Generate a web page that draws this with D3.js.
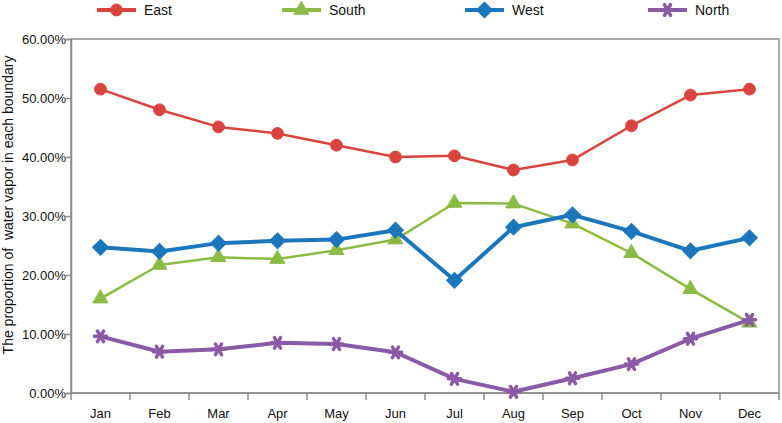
<!DOCTYPE html>
<html>
<head>
<meta charset="utf-8">
<script src="https://cdn.jsdelivr.net/npm/d3@7"></script>
<style>
  body { margin: 0; background: #fff; }
  text { font-family: "Liberation Sans", Arial, sans-serif; fill: #111; }
</style>
</head>
<body>
<svg id="chart" width="782" height="423"></svg>
<script>
var months = ["Jan", "Feb", "Mar", "Apr", "May", "Jun", "Jul", "Aug", "Sep", "Oct", "Nov", "Dec"];
var east  = [51.5, 48.0, 45.1, 44.0, 42.0, 40.0, 40.2, 37.8, 39.5, 45.3, 50.5, 51.5];
var south = [16.0, 21.7, 23.0, 22.7, 24.2, 26.0, 32.2, 32.1, 28.7, 23.7, 17.6, 11.9];
var west  = [24.7, 24.0, 25.4, 25.8, 26.0, 27.6, 19.1, 28.1, 30.2, 27.4, 24.1, 26.3];
var north = [9.6, 7.0, 7.4, 8.5, 8.3, 6.9, 2.4, 0.2, 2.5, 4.9, 9.2, 12.4];
var yTicks = [0, 10, 20, 30, 40, 50, 60];

// six-armed star: vertical bar plus an X
var symbolStar6 = {
    draw: function(context, size) {
        var r = Math.sqrt(size) / 2;
        var a = r * 0.87, b = r * 0.5;
        context.moveTo(0, -r); context.lineTo(0, r);
        context.moveTo(-a, -b); context.lineTo(a, b);
        context.moveTo(-a, b); context.lineTo(a, -b);
    }
};

var series = [
    { name: "East",  values: east,  color: "#d9443e", width: 2.5, symbol: d3.symbolCircle,   size: 110, fill: true,  rotate: 0 },
    { name: "South", values: south, color: "#8cbb45", width: 2.5, symbol: d3.symbolTriangle, size: 95,  fill: true,  rotate: 0 },
    { name: "West",  values: west,  color: "#1b76bc", width: 4,   symbol: d3.symbolSquare,   size: 125, fill: true,  rotate: 45 },
    { name: "North", values: north, color: "#8a5aa6", width: 4,   symbol: symbolStar6,       size: 150, fill: false, rotate: 90 }
];

var margin = { top: 39, right: 3, bottom: 30, left: 71 },
    width = 782 - margin.left - margin.right,
    height = 423 - margin.top - margin.bottom;

var svg = d3.select("#chart");
var g = svg.append("g")
    .attr("transform", "translate(" + margin.left + "," + margin.top + ")");

var x = d3.scaleBand().domain(months).range([0, width]);
var y = d3.scaleLinear().domain([0, 60]).range([height, 0]);

// frame
g.append("rect")
    .attr("width", width)
    .attr("height", height)
    .style("fill", "none")
    .style("stroke", "#8c8c8c")
    .style("stroke-width", 1.5);

// y axis
var yAxis = g.append("g")
    .call(d3.axisLeft(y).tickValues(yTicks).tickSize(5).tickFormat(d => d.toFixed(2) + "%"));
yAxis.select(".domain").style("stroke", "#8c8c8c").style("stroke-width", 1.5);
yAxis.selectAll(".tick line").style("stroke", "#8c8c8c").style("stroke-width", 1.5);
yAxis.selectAll(".tick text")
    .attr("x", -5)
    .style("font-size", "13px")
    .style("font-family", "Liberation Sans, Arial, sans-serif")
    .style("fill", "#111");

// x axis with ticks between categories
var xAxis = g.append("g").attr("transform", "translate(0," + height + ")");
xAxis.append("line")
    .attr("x1", 0).attr("x2", width)
    .style("stroke", "#8c8c8c").style("stroke-width", 1.5);
xAxis.selectAll(".xtick")
    .data(d3.range(months.length + 1))
    .enter().append("line")
    .attr("class", "xtick")
    .attr("x1", i => i * x.step()).attr("x2", i => i * x.step())
    .attr("y1", 0).attr("y2", 7)
    .style("stroke", "#8c8c8c").style("stroke-width", 1.5);
xAxis.selectAll(".xlabel")
    .data(months)
    .enter().append("text")
    .attr("class", "xlabel")
    .attr("x", d => x(d) + x.bandwidth() / 2)
    .attr("y", 25)
    .attr("text-anchor", "middle")
    .style("font-size", "13px")
    .text(d => d);

// y label
svg.append("text")
    .attr("transform", "rotate(-90)")
    .attr("x", -205)
    .attr("y", 13)
    .attr("text-anchor", "middle")
    .style("font-size", "14px")
    .style("white-space", "pre")
    .attr("xml:space", "preserve")
    .text("The proportion of  water vapor in each boundary");

var line = d3.line()
    .x((d, i) => x(months[i]) + x.bandwidth() / 2)
    .y(d => y(d));

function drawMarker(sel, s) {
    sel.attr("d", d3.symbol().type(s.symbol).size(s.size))
        .style("fill", s.fill ? s.color : "none")
        .style("stroke", s.color)
        .style("stroke-width", s.fill ? 1 : 3.5)
        .style("stroke-linecap", "round");
}

series.forEach(function(s) {
    g.append("path")
        .datum(s.values)
        .attr("d", line)
        .style("fill", "none")
        .style("stroke", s.color)
        .style("stroke-width", s.width)
        .style("stroke-linejoin", "round");

    g.selectAll(".pt-" + s.name)
        .data(s.values)
        .enter().append("path")
        .attr("class", "pt-" + s.name)
        .attr("transform", (d, i) => "translate(" + (x(months[i]) + x.bandwidth() / 2) + "," + y(d) + ") rotate(" + s.rotate + ")")
        .call(drawMarker, s);
});

// legend
var legendX = [97, 282, 465, 648];
var legend = svg.selectAll(".legend")
    .data(series)
    .enter().append("g")
    .attr("class", "legend")
    .attr("transform", (d, i) => "translate(" + legendX[i] + ",10)");

legend.append("line")
    .attr("x1", 0).attr("x2", 39)
    .style("stroke", d => d.color)
    .style("stroke-width", 4);
legend.each(function(d) {
    d3.select(this).append("path")
        .attr("transform", "translate(19.5,0) rotate(" + d.rotate + ")")
        .call(drawMarker, d);
});
legend.append("text")
    .attr("x", 47)
    .attr("dy", "0.35em")
    .style("font-size", "14px")
    .text(d => d.name);
</script>
</body>
</html>
